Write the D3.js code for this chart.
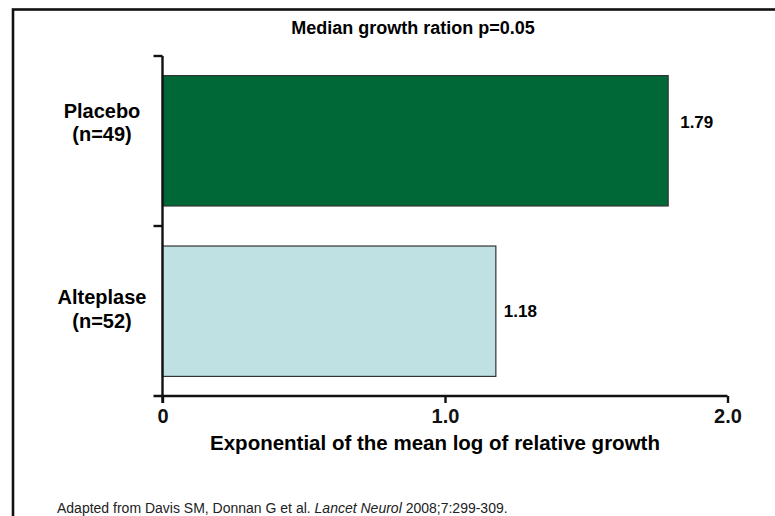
<!DOCTYPE html>
<html>
<head>
<meta charset="utf-8">
<script src="https://cdn.jsdelivr.net/npm/d3@7"></script>
<style>
  html, body { margin: 0; padding: 0; background: #fff; }
  svg { display: block; font-family: Arial, "Liberation Sans", Helvetica, sans-serif; }
</style>
</head>
<body>
<svg id="chart" width="775" height="516"></svg>
<script>
// Treatment groups (top to bottom), their sample sizes and growth values
const groups = ["Placebo", "Alteplase"];
const sampleSizes = ["(n=49)", "(n=52)"];
const growthValues = [1.79, 1.18];
const barColors = ["#006837", "#bfe1e4"];
const xTicks = [0, 1.0, 2.0];
const xTickLabels = ["0", "1.0", "2.0"];

// Per-row text placement tweaks (baseline shift from bar centre, gap after bar end)
const labelShift = [-23, -7];
const valueShift = [-13, 6];
const valueGap = [12, 8];

const svg = d3.select("#chart");

// Frame around the figure (runs off the right and bottom edges)
svg.append("rect")
  .attr("x", 13).attr("y", 9.5)
  .attr("width", 780).attr("height", 520)
  .attr("fill", "none").attr("stroke", "#111").attr("stroke-width", 2.6);

const x = d3.scaleLinear().domain([0, 2]).range([162.5, 727.5]);
const y = d3.scaleBand().domain(groups).range([56, 396]).paddingInner(0.235).paddingOuter(0.115);
const yEdges = d3.scaleBand().domain(groups).range([56, 396]);

// Title
svg.append("text")
  .attr("x", 413).attr("y", 34)
  .attr("text-anchor", "middle")
  .attr("font-weight", "bold").attr("font-size", 18)
  .text("Median growth ration p=0.05");

// Bars
svg.append("g").selectAll("rect")
  .data(groups)
  .join("rect")
  .attr("x", x(0))
  .attr("y", d => y(d))
  .attr("width", (d, i) => x(growthValues[i]) - x(0))
  .attr("height", y.bandwidth())
  .attr("fill", (d, i) => barColors[i])
  .attr("stroke", "#333").attr("stroke-width", 1.2);

// Value labels
svg.append("g").selectAll("text")
  .data(groups)
  .join("text")
  .attr("x", (d, i) => x(growthValues[i]) + valueGap[i])
  .attr("y", (d, i) => y(d) + y.bandwidth() / 2 + valueShift[i])
  .attr("font-weight", "bold").attr("font-size", 17)
  .text((d, i) => growthValues[i].toFixed(2));

// Y axis: vertical line with category boundary ticks
const axisColor = "#111";
const yAxis = svg.append("g");
yAxis.append("line")
  .attr("x1", x(0)).attr("x2", x(0))
  .attr("y1", yEdges.range()[0]).attr("y2", yEdges.range()[1] + 7)
  .attr("stroke", axisColor).attr("stroke-width", 2.4);
const yBoundaries = [yEdges.range()[0], ...groups.slice(1).map(g => yEdges(g))];
yAxis.selectAll("line.tick")
  .data(yBoundaries)
  .join("line").attr("class", "tick")
  .attr("x1", x(0) - 9).attr("x2", x(0))
  .attr("y1", d => d).attr("y2", d => d)
  .attr("stroke", axisColor).attr("stroke-width", 2.4);

// Category labels
const catLabels = svg.append("g").selectAll("text")
  .data(groups)
  .join("text")
  .attr("text-anchor", "middle")
  .attr("font-weight", "bold").attr("font-size", 20)
  .attr("x", 102)
  .attr("y", (d, i) => y(d) + y.bandwidth() / 2 + labelShift[i]);
catLabels.append("tspan").text(d => d);
catLabels.append("tspan")
  .attr("x", 102).attr("dy", 23.5)
  .text((d, i) => sampleSizes[i]);

// X axis
const xAxisY = 396;
const xAxis = svg.append("g")
  .attr("transform", `translate(0,${xAxisY})`)
  .call(d3.axisBottom(x).tickValues(xTicks).tickFormat((d, i) => xTickLabels[i]).tickSize(7).tickPadding(6));
xAxis.select(".domain").remove();
xAxis.append("line")
  .attr("x1", x(0) - 9).attr("x2", x(2))
  .attr("stroke", axisColor).attr("stroke-width", 2.4);
xAxis.selectAll(".tick line").attr("stroke", axisColor).attr("stroke-width", 2.4);
xAxis.selectAll(".tick text")
  .attr("fill", "#111")
  .attr("font-family", "Arial, 'Liberation Sans', sans-serif")
  .attr("font-weight", "bold").attr("font-size", 20);

// X axis title
svg.append("text")
  .attr("x", 435).attr("y", 449.5)
  .attr("text-anchor", "middle")
  .attr("font-weight", "bold").attr("font-size", 20.5)
  .text("Exponential of the mean log of relative growth");

// Source note
const note = svg.append("text")
  .attr("x", 57).attr("y", 512.5)
  .attr("font-size", 14).attr("fill", "#222");
note.append("tspan").text("Adapted from Davis SM, Donnan G et al. ");
note.append("tspan").attr("font-style", "italic").text("Lancet Neurol");
note.append("tspan").text(" 2008;7:299-309.");
</script>
</body>
</html>
